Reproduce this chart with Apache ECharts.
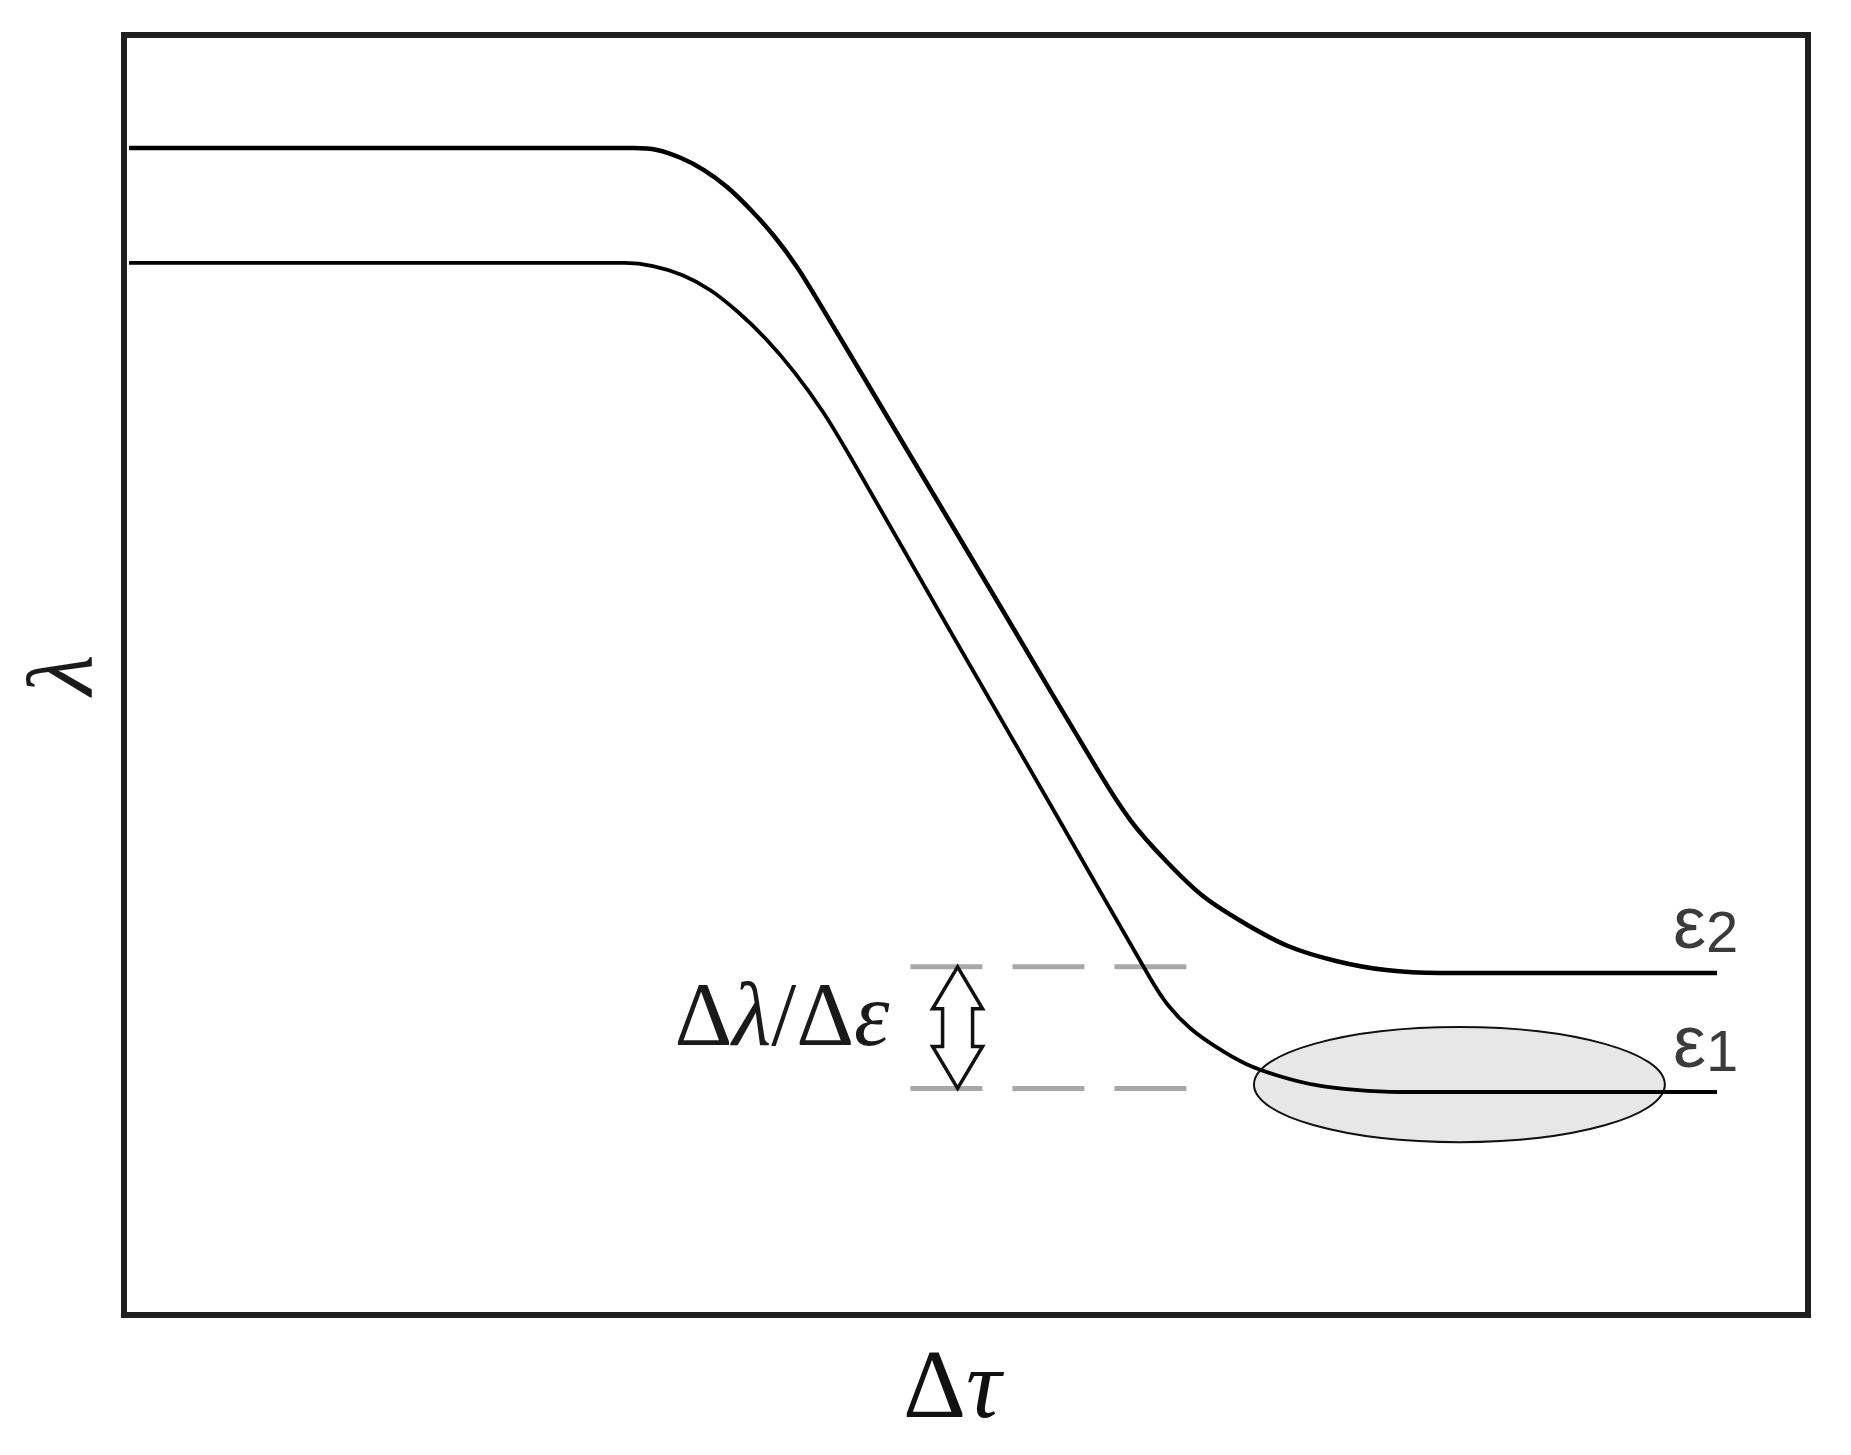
<!DOCTYPE html>
<html>
<head>
<meta charset="utf-8">
<title>λ vs Δτ</title>
<script src="https://cdn.jsdelivr.net/npm/echarts@6/dist/echarts.min.js"></script>
<style>
  html, body { margin: 0; padding: 0; background: #fff; }
  #chart { width: 1851px; height: 1455px; }
</style>
</head>
<body>
<div id="chart"></div>
<script>
// ε2 curve (upper), axis units 0..100
var e2X = [0.30, 30.29, 31.65, 33.08, 34.44, 35.81, 37.17, 38.60, 39.96, 41.33, 46.50, 52.20, 57.96, 59.80, 61.88, 64.07, 66.51, 69.12, 71.97, 74.94, 78.15, 94.60];
var e2Y = [91.17, 91.17, 91.02, 90.39, 89.45, 88.13, 86.41, 84.30, 81.88, 78.98, 67.58, 55.00, 42.27, 38.59, 35.47, 32.73, 30.63, 28.83, 27.66, 26.95, 26.72, 26.72];
// ε1 curve (lower)
var e1X = [0.30, 29.75, 31.41, 33.14, 34.80, 36.46, 38.12, 39.85, 41.51, 43.17, 49.23, 54.99, 60.93, 61.99, 63.30, 64.85, 66.63, 68.59, 70.72, 73.16, 75.77, 94.60];
var e1Y = [82.19, 82.19, 81.95, 81.25, 80.08, 78.36, 76.25, 73.59, 70.55, 66.95, 53.05, 39.92, 26.33, 24.22, 22.42, 20.94, 19.61, 18.67, 17.97, 17.58, 17.42, 17.42];
var curveNames = ['ε2', 'ε1'];

// Δλ levels (dashed) and the arrow between them
var levelY = [27.2, 17.7];
var levelX = [46.7, 63.2];
var arrowX = 49.5;

// shaded zone on ε1
var zoneCenter = [79.3, 18.0];
var zoneRadius = [12.2, 4.5];

function toPairs(xs, ys) {
    var out = [];
    for (var i = 0; i < xs.length; i++) out.push([xs[i], ys[i]]);
    return out;
}

var e2Data = toPairs(e2X, e2Y);
var e1Data = toPairs(e1X, e1Y);

var serif = "'Liberation Serif', 'DejaVu Serif', serif";
var sans = "'Liberation Sans', 'DejaVu Sans', sans-serif";

function renderArrow(params, api) {
    var top = api.coord([api.value(0), api.value(1)]);
    var bot = api.coord([api.value(0), api.value(2)]);
    var x = top[0], t = top[1], b = bot[1];
    var hw = 25, sw = 15, hl = 42;
    return {
        type: 'group',
        children: [{
            type: 'polygon',
            shape: {
                points: [[x, t], [x + hw, t + hl], [x + sw, t + hl], [x + sw, b - hl], [x + hw, b - hl],
                         [x, b], [x - hw, b - hl], [x - sw, b - hl], [x - sw, t + hl], [x - hw, t + hl]]
            },
            style: { fill: '#fff', stroke: '#111', lineWidth: 3.5 }
        }, {
            type: 'text',
            x: x - 68,
            y: (t + b) / 2 - 6,
            style: {
                text: '{n|Δ}{i|λ}{n|/Δ}{i|ε}',
                align: 'right',
                verticalAlign: 'middle',
                fill: '#111',
                rich: {
                    n: { fontFamily: serif, fontSize: 90, fill: '#1a1a1a' },
                    i: { fontFamily: serif, fontSize: 90, fontStyle: 'italic', fill: '#1a1a1a' }
                }
            }
        }]
    };
}

function renderZone(params, api) {
    var c = api.coord([api.value(0), api.value(1)]);
    var s = api.size([api.value(2), api.value(3)]);
    return {
        type: 'ellipse',
        shape: { cx: c[0], cy: c[1], rx: s[0], ry: s[1] },
        style: { fill: 'rgba(208,208,208,0.5)', stroke: '#111', lineWidth: 2 }
    };
}

var myChart = echarts.init(document.getElementById('chart'));

var option = {
    animation: false,
    backgroundColor: '#fff',
    grid: {
        show: true,
        left: 124, top: 35, right: 43, bottom: 140,
        borderColor: '#1e1e1e',
        borderWidth: 6
    },
    xAxis: {
        type: 'value', min: 0, max: 100,
        name: 'Δ{i|τ}',
        nameLocation: 'middle',
        nameGap: 27,
        nameTextStyle: {
            fontFamily: serif, fontSize: 98, color: '#111',
            padding: [0, 28, 0, 0],
            rich: { i: { fontFamily: serif, fontSize: 98, fontStyle: 'italic', color: '#111' } }
        },
        axisLine: { show: false }, axisTick: { show: false },
        axisLabel: { show: false }, splitLine: { show: false }
    },
    yAxis: {
        type: 'value', min: 0, max: 100,
        name: 'λ',
        nameLocation: 'middle',
        nameGap: 11,
        nameTextStyle: { fontFamily: serif, fontSize: 94, fontStyle: 'italic', color: '#1a1a1a' },
        axisLine: { show: false }, axisTick: { show: false },
        axisLabel: { show: false }, splitLine: { show: false }
    },
    series: [{
        name: 'level high', type: 'line', silent: true, showSymbol: false,
        data: [[levelX[0], levelY[0]], [levelX[1], levelY[0]]],
        lineStyle: { color: '#a8a8a8', width: 5, type: [72, 30] }
    }, {
        name: 'level low', type: 'line', silent: true, showSymbol: false,
        data: [[levelX[0], levelY[1]], [levelX[1], levelY[1]]],
        lineStyle: { color: '#a8a8a8', width: 5, type: [72, 30] }
    }, {
        name: curveNames[0], type: 'line', showSymbol: false,
        smooth: 0.25,
        data: e2Data,
        lineStyle: { color: '#000', width: 4.5 }
    }, {
        name: curveNames[1], type: 'line', showSymbol: false,
        smooth: 0.25,
        data: e1Data,
        lineStyle: { color: '#000', width: 3.8 }
    }, {
        name: 'curve labels', type: 'scatter', symbolSize: 0, silent: true,
        data: [
            { name: curveNames[0], value: e2Data[e2Data.length - 1] },
            { name: curveNames[1], value: e1Data[e1Data.length - 1] }
        ],
        label: {
            show: true, position: 'right', distance: 0, offset: [-44, -45],
            formatter: function (p) { return '{e|' + p.name.charAt(0) + '}{d|' + p.name.slice(1) + '}'; },
            rich: {
                e: { fontFamily: sans, fontSize: 74, lineHeight: 74, color: '#0a0a0a', verticalAlign: 'bottom' },
                d: { fontFamily: sans, fontSize: 58, lineHeight: 58, color: '#0a0a0a', verticalAlign: 'bottom' }
            }
        }
    }, {
        name: 'Δλ/Δε', type: 'custom', silent: true, z: 4,
        renderItem: renderArrow,
        data: [[arrowX, levelY[0], levelY[1]]]
    }, {
        name: 'zone', type: 'custom', silent: true, z: 3,
        renderItem: renderZone,
        data: [[zoneCenter[0], zoneCenter[1], zoneRadius[0], zoneRadius[1]]]
    }]
};

myChart.setOption(option);
</script>
</body>
</html>
